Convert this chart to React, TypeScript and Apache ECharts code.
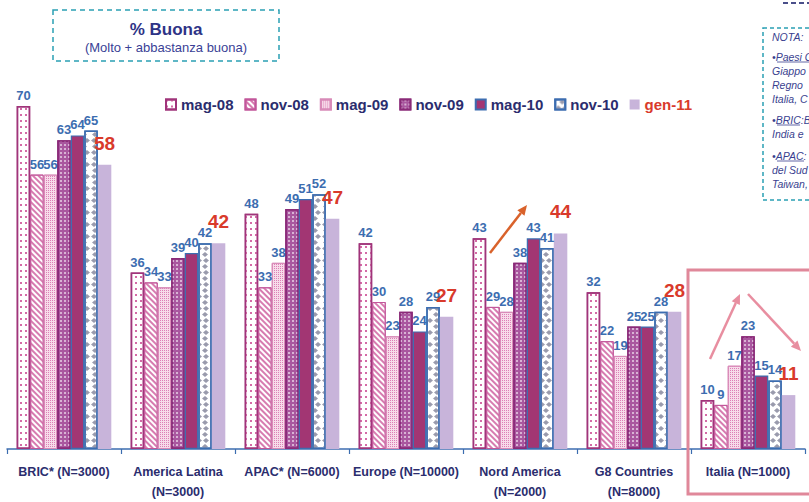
import React, { useEffect, useRef } from "react";
import * as echarts from "echarts";

const categories = [
  "BRIC* (N=3000)",
  "America Latina\n(N=3000)",
  "APAC* (N=6000)",
  "Europe (N=10000)",
  "Nord America\n(N=2000)",
  "G8 Countries\n(N=8000)",
  "Italia (N=1000)",
];
const periods = ["mag-08", "nov-08", "mag-09", "nov-09", "mag-10", "nov-10", "gen-11"];
const mag08 = [70, 36, 48, 42, 43, 32, 10];
const nov08 = [56, 34, 33, 30, 29, 22, 9];
const mag09 = [56, 33, 38, 23, 28, 19, 17];
const nov09 = [63, 39, 49, 28, 38, 25, 23];
const mag10 = [64, 40, 51, 24, 43, 25, 15];
const nov10 = [65, 42, 52, 29, 41, 28, 14];
const gen11 = [58, 42, 47, 27, 44, 28, 11];
const seriesValues = [mag08, nov08, mag09, nov09, mag10, nov10, gen11];
const noteLines = [
  "NOTA:",
  "•Paesi G",
  "Giappo",
  "Regno",
  "Italia, C",
  "•BRIC:B",
  "India e",
  "•APAC:",
  "del Sud",
  "Taiwan,",
];

const NAVY = "#2b2d6e";
const BLUE = "#3c6db0";
const RED = "#d93a2b";
const TEAL = "#2aa0b4";
const FONT = "'Liberation Sans', Arial, sans-serif";

const styles: any[] = [
  {
    color: "#ffffff",
    borderColor: "#a0347a",
    borderWidth: 1.5,
    decal: { symbol: "rect", symbolSize: 1, dashArrayX: [1.5, 3], dashArrayY: [1.5, 3.5], color: "#d46aa6" },
  },
  {
    color: "#ffffff",
    borderColor: "#c2569a",
    borderWidth: 1,
    decal: { symbol: "rect", symbolSize: 1, dashArrayX: [1, 0], dashArrayY: [1.5, 1.8], rotation: Math.PI / 4, color: "#d77cb0" },
  },
  {
    color: "#f7dcea",
    borderColor: "#d88ab8",
    borderWidth: 1,
    decal: { symbol: "rect", symbolSize: 1, dashArrayX: [1, 1], dashArrayY: [1, 1], color: "#dd7fb6" },
  },
  {
    color: "#a9579f",
    borderColor: "#8a2a78",
    borderWidth: 1.5,
    decal: { symbol: "rect", symbolSize: 1, dashArrayX: [1.5, 1.5], dashArrayY: [1.5, 1.5], color: "rgba(255,255,255,0.55)" },
  },
  {
    color: "#a23673",
    borderColor: BLUE,
    borderWidth: 1.2,
  },
  {
    color: "#ffffff",
    borderColor: BLUE,
    borderWidth: 1.5,
    decal: { symbol: "diamond", symbolSize: 1, dashArrayX: [[6, 1], [0, 3.5, 6, 1]], dashArrayY: [5, 1], color: "#9a9bad" },
  },
  {
    color: "#c8b4da",
    borderWidth: 0,
  },
];

function arrow(x1: number, y1: number, x2: number, y2: number, color: string) {
  const ang = Math.atan2(y2 - y1, x2 - x1);
  const len = 10;
  const w = 4.5;
  const bx = x2 - len * Math.cos(ang);
  const by = y2 - len * Math.sin(ang);
  const px = -Math.sin(ang) * w;
  const py = Math.cos(ang) * w;
  return [
    { type: "line", shape: { x1, y1, x2: bx, y2: by }, style: { stroke: color, lineWidth: 2.5 } },
    {
      type: "polygon",
      shape: { points: [[x2, y2], [bx + px, by + py], [bx - px, by - py]] },
      style: { fill: color },
    },
  ];
}

export default function App() {
  const ref = useRef<HTMLDivElement>(null);
  useEffect(() => {
    if (!ref.current) return;
    const chart = echarts.init(ref.current, undefined, { renderer: "svg" });
    const noteStyle = { fill: "#3a3f8f", font: "italic 10.5px 'Liberation Sans', Arial, sans-serif" };
    const noteY = [37, 57, 71, 85, 99, 120, 134, 156, 170, 184];
    const underlines = [
      { x1: 777, x2: 809, y: 62 },
      { x1: 777, x2: 800, y: 125 },
      { x1: 777, x2: 804, y: 161 },
    ];
    const option: any = {
      animation: false,
      backgroundColor: "#ffffff",
      grid: { left: 7, right: 4, top: 106, bottom: 50, containLabel: false },
      legend: {
        left: 160,
        top: 92,
        itemWidth: 10,
        itemHeight: 10,
        itemGap: 11,
        icon: "rect",
        textStyle: { color: NAVY, fontFamily: FONT, fontWeight: "bold", fontSize: 15 },
        data: periods.map((p, i) =>
          i === 6 ? { name: p, textStyle: { color: RED } } : { name: p }
        ),
      },
      xAxis: {
        type: "category",
        data: categories,
        axisLine: { lineStyle: { color: BLUE, width: 1.5 } },
        axisTick: { show: true, length: 5, lineStyle: { color: BLUE, width: 1.2 } },
        axisLabel: {
          interval: 0,
          color: NAVY,
          fontFamily: FONT,
          fontWeight: "bold",
          fontSize: 12.5,
          lineHeight: 20,
          margin: 13,
        },
      },
      yAxis: {
        type: "value",
        min: 0,
        max: 70,
        show: false,
        splitLine: { show: false },
      },
      series: periods.map((p, i) => ({
        name: p,
        type: "bar",
        barGap: "0%",
        barCategoryGap: "17%",
        data: seriesValues[i],
        itemStyle: styles[i],
        label: {
          show: true,
          position: "top",
          distance: i === 6 ? 12 : 4,
          color: i === 6 ? RED : BLUE,
          fontFamily: FONT,
          fontWeight: "bold",
          fontSize: i === 6 ? 19 : 13,
        },
      })),
      graphic: [
        {
          type: "rect",
          shape: { x: 53, y: 10, width: 226, height: 51 },
          style: { fill: "none", stroke: TEAL, lineWidth: 1.5, lineDash: [5, 4] },
        },
        {
          type: "text",
          x: 166,
          y: 29,
          style: {
            text: "% Buona",
            fill: "#2e3386",
            font: "bold 17px 'Liberation Sans', Arial, sans-serif",
            textAlign: "center",
            textVerticalAlign: "middle",
          },
        },
        {
          type: "text",
          x: 166,
          y: 47,
          style: {
            text: "(Molto + abbastanza buona)",
            fill: "#3a3f96",
            font: "13px 'Liberation Sans', Arial, sans-serif",
            textAlign: "center",
            textVerticalAlign: "middle",
          },
        },
        {
          type: "line",
          shape: { x1: 783, y1: 3, x2: 809, y2: 3 },
          style: { stroke: "#4a4f8a", lineWidth: 2, lineDash: [5, 3] },
        },
        {
          type: "rect",
          shape: { x: 763, y: 28, width: 70, height: 172 },
          style: { fill: "none", stroke: TEAL, lineWidth: 1.5, lineDash: [4, 3] },
        },
        ...noteLines.map((t, i) => ({
          type: "text",
          x: 772,
          y: noteY[i] - 6,
          style: { ...noteStyle, text: t },
        })),
        ...underlines.map((u) => ({
          type: "line",
          shape: { x1: u.x1, y1: u.y, x2: u.x2, y2: u.y },
          style: { stroke: "#3a3f8f", lineWidth: 0.8 },
        })),
        {
          type: "rect",
          shape: { x: 688, y: 270, width: 130, height: 224 },
          style: { fill: "none", stroke: "#e0889a", lineWidth: 3 },
          z: 100,
        },
        ...arrow(490, 253, 527, 205, "#d9622b"),
        ...arrow(710, 359, 740, 294, "#e88ea0"),
        ...arrow(748, 294, 801, 351, "#e88ea0"),
      ],
    };
    chart.setOption(option);
    return () => chart.dispose();
  }, []);
  return (
    <div
      ref={ref}
      style={{ position: "absolute", left: 0, top: 0, width: 809, height: 502, background: "#fff" }}
    />
  );
}
